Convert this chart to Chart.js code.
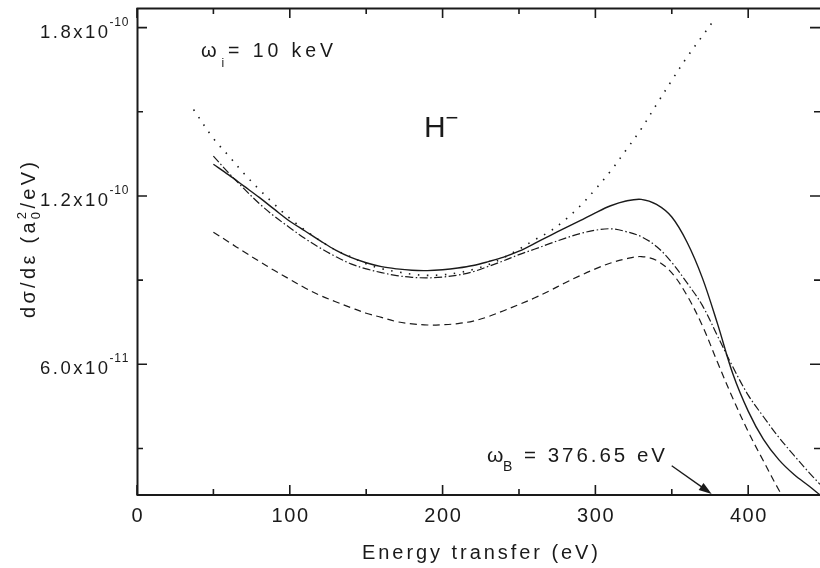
<!DOCTYPE html>
<html><head><meta charset="utf-8">
<script src="https://cdn.jsdelivr.net/npm/chart.js@4/dist/chart.umd.min.js"></script>
<style>html,body{margin:0;padding:0;background:#fff}#wrap{width:820px;height:568px;position:relative}</style>
</head><body><div id="wrap"><canvas id="c" width="820" height="568"></canvas></div>
<script>
// y values in units of 1e-10 a0^2/eV, x in eV
const solidX = [50,60,70,80,90,100,110,120,130,140,150,160,170,180,190,200,210,220,230,240,250,260,270,280,290,300,310,320,330,340,350,360,370,380,390,400,410,420,430,440,447];
const solidY = [1.313,1.275,1.235,1.195,1.152,1.11,1.075,1.04,1.007,0.981,0.962,0.948,0.94,0.935,0.934,0.937,0.943,0.952,0.966,0.982,1.003,1.03,1.058,1.085,1.112,1.14,1.165,1.182,1.188,1.17,1.125,1.035,0.908,0.743,0.565,0.433,0.332,0.26,0.207,0.165,0.134];

const dashDotX = [50,60,70,80,90,100,110,120,130,140,150,160,170,180,190,200,210,220,230,240,250,260,270,280,290,300,310,320,330,340,350,360,370,380,390,400,410,420,430,440,447];
const dashDotY = [1.342,1.282,1.226,1.173,1.127,1.087,1.048,1.014,0.984,0.958,0.94,0.927,0.916,0.91,0.908,0.911,0.918,0.93,0.949,0.969,0.991,1.01,1.03,1.049,1.066,1.078,1.083,1.073,1.055,1.02,0.963,0.89,0.81,0.70,0.59,0.49,0.413,0.34,0.275,0.213,0.172];

const dashedX = [50,60,70,80,90,100,110,120,130,140,150,160,170,180,190,200,210,220,230,240,250,260,270,280,290,300,310,320,330,340,350,360,370,380,390,400,410,420,425];
const dashedY = [1.071,1.036,1.001,0.967,0.934,0.903,0.872,0.845,0.823,0.802,0.782,0.767,0.752,0.744,0.74,0.741,0.745,0.754,0.77,0.791,0.813,0.836,0.862,0.89,0.916,0.94,0.961,0.976,0.984,0.97,0.926,0.845,0.738,0.606,0.478,0.36,0.255,0.153,0.11];

const dottedX = [37,50,60,70,80,90,100,110,120,130,140,150,160,170,180,190,200,210,220,230,240,250,260,270,280,290,300,310,320,330,340,350,360,370,376];
const dottedY = [1.508,1.405,1.343,1.28,1.223,1.17,1.12,1.078,1.04,1.007,0.983,0.958,0.941,0.93,0.921,0.917,0.919,0.926,0.938,0.955,0.98,1.01,1.043,1.073,1.114,1.164,1.224,1.289,1.363,1.439,1.526,1.612,1.695,1.77,1.815];

const xTickValues = [0,100,200,300,400];
const xTickLabels = ['0','100','200','300','400'];
const yTickValues = [1.8,1.2,0.6];
const yTickMantissas = ['1.8x10','1.2x10','6.0x10'];
const yTickExponents = ['-10','-10','-11'];

const FF = '"Liberation Sans", Arial, Helvetica, sans-serif';
const INK = '#1a1a1a';

function pts(xs, ys){ return xs.map((x,i)=>({x:x, y:ys[i]})); }

function drawSpaced(ctx, text, x, y, size, align, target){
  ctx.font = size + 'px ' + FF;
  const chars = Array.from(text);
  const w = chars.map(c=>ctx.measureText(c).width);
  const nat = w.reduce((a,b)=>a+b,0);
  const sp = (target!=null && chars.length>1) ? (target-nat)/(chars.length-1) : 0;
  const total = nat + sp*(chars.length-1);
  let cx = align==='center' ? x-total/2 : (align==='right' ? x-total : x);
  ctx.textAlign='left'; ctx.textBaseline='alphabetic';
  chars.forEach((c,i)=>{ ctx.fillText(c, cx, y); cx += w[i]+sp; });
  return cx - sp;
}

const framePlugin = {
  id:'frame',
  afterDraw(chart){
    const ctx = chart.ctx, xs = chart.scales.x, ys = chart.scales.y, a = chart.chartArea;
    ctx.save();
    ctx.strokeStyle = INK; ctx.fillStyle = INK;
    ctx.lineWidth = 2;
    ctx.beginPath();
    ctx.moveTo(a.left+0.5, a.top); ctx.lineTo(a.left+0.5, a.bottom+1);
    ctx.moveTo(a.left-0.5, a.bottom); ctx.lineTo(a.right, a.bottom);
    ctx.moveTo(a.left-0.5, a.top+0.5); ctx.lineTo(a.right, a.top+0.5);
    ctx.stroke();
    ctx.lineWidth = 1.6;
    ctx.beginPath();
    for (let v=0; v<=450; v+=50){
      const px = xs.getPixelForValue(v);
      if (px > a.right) continue;
      const len = (v%100===0) ? 10 : 6;
      ctx.moveTo(px, a.bottom); ctx.lineTo(px, a.bottom-len);
      ctx.moveTo(px, a.top); ctx.lineTo(px, a.top+len);
    }
    for (let k=1; k<=6; k++){
      const py = ys.getPixelForValue(k*0.3);
      const len = (k%2===0) ? 10 : 6;
      ctx.moveTo(a.left, py); ctx.lineTo(a.left+len, py);
      ctx.moveTo(a.right, py); ctx.lineTo(a.right-len, py);
    }
    ctx.stroke();
    xTickValues.forEach((v,i)=>{
      const px = xs.getPixelForValue(v);
      const t = xTickLabels[i];
      drawSpaced(ctx, t, px, 522, 20, 'center', t.length>1 ? 12.2*t.length : null);
    });
    yTickValues.forEach((v,i)=>{
      const py = ys.getPixelForValue(v);
      drawSpaced(ctx, yTickMantissas[i], 108, py+10, 18.5, 'right', 68);
      drawSpaced(ctx, yTickExponents[i], 109.5, py-2, 12, 'left', 19);
    });
    drawSpaced(ctx, 'Energy transfer (eV)', 362, 559, 20, 'left', 236);
    // y title (rotated)
    ctx.save();
    ctx.translate(35, 318);
    ctx.rotate(-Math.PI/2);
    const c1 = Array.from('dσ/dε (a'), c2 = Array.from('/eV)');
    ctx.font = '20px ' + FF;
    const w1 = c1.map(c=>ctx.measureText(c).width), w2 = c2.map(c=>ctx.measureText(c).width);
    ctx.font = '13px ' + FF;
    const wS = Math.max(ctx.measureText('0').width, ctx.measureText('2').width);
    const nat = w1.reduce((p,q)=>p+q,0) + w2.reduce((p,q)=>p+q,0) + wS;
    const gaps = c1.length + c2.length;
    const s = (156 - nat)/gaps;
    let cx = 0;
    ctx.font = '20px ' + FF;
    c1.forEach((c,i)=>{ ctx.fillText(c, cx, 0); cx += w1[i]+s; });
    ctx.font = '13px ' + FF;
    ctx.fillText('0', cx, 5);
    ctx.fillText('2', cx, -9);
    cx += wS + s;
    ctx.font = '20px ' + FF;
    c2.forEach((c,i)=>{ ctx.fillText(c, cx, 0); cx += w2[i]+s; });
    ctx.restore();
    // omega_i = 10 keV
    ctx.font = '20px ' + FF;
    ctx.fillText('ω', 201, 56.7);
    drawSpaced(ctx, 'i', 221.5, 67, 12, 'left', null);
    drawSpaced(ctx, '= 10 keV', 228, 56.7, 19.5, 'left', 105);
    // H-
    ctx.font = '30px ' + FF;
    ctx.fillText('H', 424, 136.7);
    ctx.font = '22px ' + FF;
    ctx.fillText('−', 445.5, 124.5);
    // omega_B
    ctx.font = '21px ' + FF;
    ctx.fillText('ω', 487, 461.7);
    drawSpaced(ctx, 'B', 503, 471, 14, 'left', null);
    drawSpaced(ctx, '= 376.65 eV', 524, 461.7, 20.5, 'left', 141);
    // arrow
    const x0=671.7, y0=465.7, x1=711.7, y1=494;
    const ang = Math.atan2(y1-y0, x1-x0);
    ctx.lineWidth = 1.4;
    ctx.beginPath(); ctx.moveTo(x0,y0); ctx.lineTo(x1-8*Math.cos(ang), y1-8*Math.sin(ang)); ctx.stroke();
    const L=13, W=4.2;
    ctx.beginPath();
    ctx.moveTo(x1,y1);
    ctx.lineTo(x1-L*Math.cos(ang)+W*Math.sin(ang), y1-L*Math.sin(ang)-W*Math.cos(ang));
    ctx.lineTo(x1-L*Math.cos(ang)-W*Math.sin(ang), y1-L*Math.sin(ang)+W*Math.cos(ang));
    ctx.closePath(); ctx.fill();
    ctx.restore();
  }
};

const common = {borderColor: INK, pointRadius: 0, fill: false, tension: 0.35, clip: 0};
new Chart(document.getElementById('c'), {
  type: 'line',
  data: {
    datasets: [
      Object.assign({label:'solid', data: pts(solidX, solidY), borderWidth: 1.4}, common),
      Object.assign({label:'dash-dot', data: pts(dashDotX, dashDotY), borderWidth: 1.2, borderDash:[8,2.5,1.5,2.5]}, common),
      Object.assign({label:'dashed', data: pts(dashedX, dashedY), borderWidth: 1.2, borderDash:[7,4.5]}, common),
      Object.assign({label:'dotted', data: pts(dottedX, dottedY), borderWidth: 1.6, borderDash:[1.5,7.5]}, common)
    ]
  },
  options: {
    responsive: false, animation: false, devicePixelRatio: 1,
    layout: {padding: {left: 137, right: 0, top: 8, bottom: 73}},
    scales: {
      x: {type: 'linear', min: 0, max: 447, display: false},
      y: {type: 'linear', min: 0.134, max: 1.87, display: false}
    },
    plugins: {legend: {display: false}, tooltip: {enabled: false}}
  },
  plugins: [framePlugin]
});
</script>
</body></html>
